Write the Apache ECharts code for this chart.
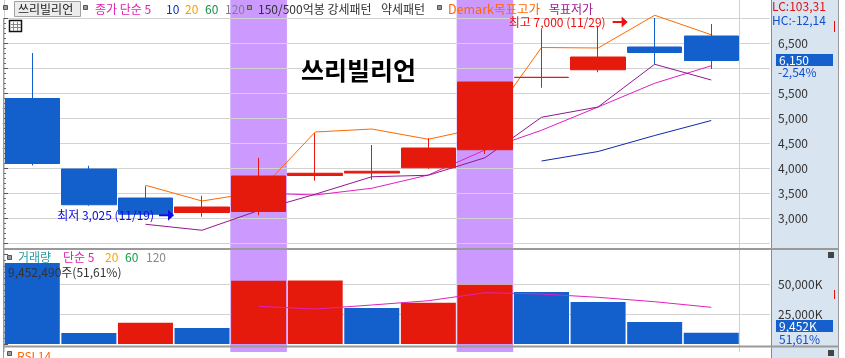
<!DOCTYPE html>
<html><head><meta charset="utf-8">
<script src="https://cdn.jsdelivr.net/npm/echarts@6/dist/echarts.min.js"></script>
<style>html,body{margin:0;padding:0;background:#fff;overflow:hidden}#c{width:845px;height:358px}</style>
</head><body><div id="c"></div>
<script>
// ---------- data ----------
const dates = ['11/14','11/15','11/18','11/19','11/20','11/21','11/22','11/25','11/26','11/27','11/28','11/29','12/02'];
const openP  = [5390,3980,3400,3110,3130,3850,3900,4005,4365,5810,5965,6420,6640];
const closeP = [4090,3265,3075,3220,3840,3895,3935,4400,5720,5815,6220,6310,6150];
const lowP   = [4050,3245,3070,3025,3055,3745,3765,3985,4280,5605,5915,6075,5980];
const highP  = [6300,4045,3635,3445,4205,4695,4460,4595,5720,6775,6845,7000,6880];
const ma5        = [null,null,null,null,3500,3460,3595,3860,4360,4755,5220,5695,6045];
const ma10       = [null,null,null,null,null,null,null,null,null,4140,4330,4650,4950];
const demarkHigh = [null,null,3655,3340,3520,4720,4780,4575,4820,6410,6400,7055,6665];
const demarkLow  = [null,null,2875,2755,3150,3475,3825,3855,4205,5015,5220,6075,5760];
const volume     = [67500,9200,17800,13300,52700,52900,30000,34400,49400,43300,35000,18300,9452];
const volMa5     = [null,null,null,null,31400,29150,32500,36070,42730,41650,38900,35240,30570];
const patternDays = ['11/20','11/26'];
const monthStart = '12/02';
const priceTicks = {min:2500, max:7000, step:500};
const volTicks = {min:0, max:75000, step:25000};
const lowMark = {date:'11/19', value:3025, text:'최저 3,025 (11/19)'};
const highMark = {date:'11/29', value:7000, text:'최고 7,000 (11/29)'};

// ---------- style ----------
const RED = '#E61A0C', BLUE = '#135FCB', PURPLE_BAND = '#CC99FF';
const FONT = '"Noto Sans CJK KR", "Noto Sans", sans-serif';
const GRID_C = '#d3d3d3';
const SLOT = 56.58, LEFT = 4, BW = SLOT * dates.length;
const arrow = 'path://M0,4L9,4L9,0L15,5L9,10L9,6L0,6Z';

const chart = echarts.init(document.getElementById('c'), null, {renderer:'canvas'});
const fmt = v => v.toLocaleString('en-US');

function txt(x, y, text, fill, size, weight) {
  return {type:'text', x, y, z:100, silent:true,
    style:{text, fill, font:(weight||'normal') + ' ' + (size||12) + 'px ' + FONT,
      textVerticalAlign:'middle', verticalAlign:'middle', textAlign:'left', align:'left'}};
}
function sq(x, y) { return {type:'rect', z:100, shape:{x:x+0.5, y:y+0.5, width:4, height:4}, style:{fill:'#9a9a9a', stroke:'#555', lineWidth:1}}; }
function ln(x1,y1,x2,y2,color,w) { return {type:'line', z:100, shape:{x1,y1,x2,y2}, style:{stroke:color, lineWidth:w||1}}; }

const line = (data, color, z) => ({type:'line', xAxisIndex:2, yAxisIndex:2, data, showSymbol:false, symbol:'none',
  lineStyle:{color, width:1}, itemStyle:{color}, z:z||2, clip:false, silent:true, connectNulls:false, animation:false});

const option = {
  animation:false,
  backgroundColor:'#ffffff',
  textStyle:{fontFamily:FONT},
  grid:[
    {left:LEFT, width:BW, top:0, height:352},
    {left:LEFT, right:75, top:18, height:225},
    {left:LEFT, width:BW, top:18, height:225},
    {left:LEFT, right:75, top:254, height:90},
    {left:LEFT, width:BW, top:254, height:90}
  ],
  xAxis:[
    {gridIndex:0, type:'category', data:dates, axisLine:{show:false}, axisTick:{show:false}, axisLabel:{show:false},
      splitLine:{show:true, interval:(i)=> i === dates.indexOf(monthStart), lineStyle:{color:'#d0d0d0', width:1}}},
    {gridIndex:1, type:'value', show:false, min:0, max:1},
    {gridIndex:2, type:'category', data:dates, show:false},
    {gridIndex:3, type:'value', show:false, min:0, max:1},
    {gridIndex:4, type:'category', data:dates, show:false}
  ],
  yAxis:[
    {gridIndex:0, type:'value', min:0, max:1, show:false},
    {gridIndex:1, type:'value', position:'right', min:priceTicks.min, max:priceTicks.max, interval:priceTicks.step, z:1,
      axisLine:{show:false},
      axisTick:{show:true, length:4, lineStyle:{color:'#555'}},
      minorTick:{show:true, splitNumber:5, length:2, lineStyle:{color:'#666'}},
      axisLabel:{show:true, showMinLabel:false, showMaxLabel:false, margin:8, color:'#333', fontSize:12, fontFamily:FONT,
        formatter:v => (v === 6000 ? '' : fmt(v))},
      splitLine:{show:true, showMinLine:true, showMaxLine:true, lineStyle:{color:GRID_C, width:1}}},
    {gridIndex:2, type:'value', min:priceTicks.min, max:priceTicks.max, show:false},
    {gridIndex:3, type:'value', position:'right', min:volTicks.min, max:volTicks.max, interval:volTicks.step, z:1,
      axisLine:{show:false},
      axisTick:{show:true, length:4, lineStyle:{color:'#555'}},
      minorTick:{show:true, splitNumber:5, length:2, lineStyle:{color:'#666'}},
      axisLabel:{show:true, showMinLabel:false, showMaxLabel:false, margin:8, color:'#333', fontSize:12, fontFamily:FONT,
        formatter:v => fmt(v) + 'K'},
      splitLine:{show:true, showMinLine:false, showMaxLine:false, lineStyle:{color:GRID_C, width:1}}},
    {gridIndex:4, type:'value', min:volTicks.min, max:volTicks.max, show:false}
  ],
  series:[
    {type:'bar', xAxisIndex:0, yAxisIndex:0, z:0, silent:true, barCategoryGap:'0%', barGap:'0%',
      data:dates.map(d => patternDays.includes(d) ? 1 : 0), itemStyle:{color:PURPLE_BAND}},
    {type:'candlestick', xAxisIndex:2, yAxisIndex:2, z:3, barWidth:55, silent:true,
      data:dates.map((d,i) => [openP[i], closeP[i], lowP[i], highP[i]]),
      itemStyle:{color:RED, color0:BLUE, borderColor:RED, borderColor0:BLUE, borderColorDoji:RED, borderWidth:1},
      markPoint:{silent:true, animation:false, data:[
        {coord:[lowMark.date, lowMark.value], symbol:arrow, symbolSize:[15,11], symbolOffset:[-35.5,-1.5],
          itemStyle:{color:'#0B0BE8'},
          label:{show:true, position:'left', distance:5, formatter:lowMark.text, color:'#0B0BE8', fontSize:12, fontFamily:FONT}},
        {coord:[highMark.date, highMark.value], symbol:arrow, symbolSize:[15,11], symbolOffset:[-34.5,4],
          itemStyle:{color:'#F01010'},
          label:{show:true, position:'left', distance:7, formatter:highMark.text, color:'#F01010', fontSize:12, fontFamily:FONT}}
      ]}},
    line(ma10, '#1028A8'),
    line(ma5, '#E020C0'),
    line(demarkLow, '#92188F'),
    line(demarkHigh, '#FF6A00'),
    {type:'bar', xAxisIndex:4, yAxisIndex:4, z:2, barWidth:55, silent:true,
      data:volume.map((v,i) => ({value:v, itemStyle:{color: (i > 0 && v > volume[i-1]) ? RED : BLUE}}))},
    {type:'line', xAxisIndex:4, yAxisIndex:4, z:4, data:volMa5, showSymbol:false, symbol:'none', silent:true,
      lineStyle:{color:'#E020C0', width:1}}
  ],
  graphic:[
    {type:'rect', z:-10, silent:true, shape:{x:771, y:0, width:67, height:358}, style:{fill:'#d9e4f1'}},
    ln(771.5,0,771.5,358,'#8a8a8a',1),
    ln(838.5,0,838.5,358,'#9a9a9a',1),
    ln(3.5,18,3.5,358,'#9a9a9a',1),
    {type:'rect', z:100, shape:{x:3, y:248, width:836, height:2}, style:{fill:'#9a9a9a'}},
    {type:'rect', z:100, shape:{x:3, y:345.5, width:836, height:2}, style:{fill:'#9a9a9a'}},
    // header
    sq(3,5),
    {type:'rect', z:100, shape:{x:14.5, y:1.5, width:66, height:15}, style:{fill:'#ececec', stroke:'#a0a0a0', lineWidth:1}},
    txt(18, 9, '쓰리빌리언', '#222'),
    sq(83,5),
    txt(95, 9, '종가 단순 5', '#E020B0'),
    txt(166, 9, '10', '#1030B0'),
    txt(185, 9, '20', '#F0A000'),
    txt(205, 9, '60', '#109040'),
    txt(225, 9, '120', '#808080'),
    sq(247,5),
    txt(258, 9, '150/500억봉 강세패턴', '#333'),
    txt(381, 9, '약세패턴', '#333'),
    sq(437,5),
    txt(448, 9, 'Demark목표고가', '#FF6600', 12.5),
    txt(549, 9, '목표저가', '#A01890'),
    // table icon
    {type:'rect', z:100, shape:{x:9.5, y:20.5, width:12, height:11}, style:{fill:'#fff', stroke:'#111', lineWidth:1.5}},
    ln(13.5,22,13.5,31,'#888'), ln(17.5,22,17.5,31,'#888'), ln(11,24.5,21,24.5,'#888'), ln(11,27.5,21,27.5,'#888'),
    // title
    txt(301, 70, '쓰리빌리언', '#000', 25, 'bold'),
    // right axis texts
    txt(772, 6, 'LC:103,31', '#E01010'),
    txt(772, 20, 'HC:-12,14', '#1050C8'),
    ln(834.5,21,834.5,32,'#E01010'),
    {type:'rect', z:100, shape:{x:776, y:54, width:57, height:12}, style:{fill:'#1560CC'}},
    txt(779, 60, '6,150', '#ffffff'),
    txt(778, 72, '-2,54%', '#1050D0'),
    ln(834.5,290,834.5,299,'#E01010'),
    {type:'rect', z:100, shape:{x:776, y:320, width:57, height:12}, style:{fill:'#1560CC'}},
    txt(779, 326, '9,452K', '#ffffff'),
    txt(779, 339, '51,61%', '#1050D0'),
    {type:'rect', z:100, shape:{x:828, y:252, width:6, height:6}, style:{fill:'#444'}},
    {type:'rect', z:100, shape:{x:828, y:350, width:6, height:6}, style:{fill:'#444'}},
    // volume header
    sq(7,255),
    txt(18, 257, '거래량', '#2A9BA0'),
    txt(63, 257, '단순 5', '#E020B0'),
    txt(105, 257, '20', '#F0A800'),
    txt(125, 257, '60', '#10A040'),
    txt(146, 257, '120', '#888888'),
    txt(8, 272, '9,452,490주(51,61%)', '#333'),
    // RSI header (cut)
    sq(7,351),
    txt(17, 356, 'RSI 14', '#FF6600')
  ]
};
chart.setOption(option);
</script>
</body></html>
